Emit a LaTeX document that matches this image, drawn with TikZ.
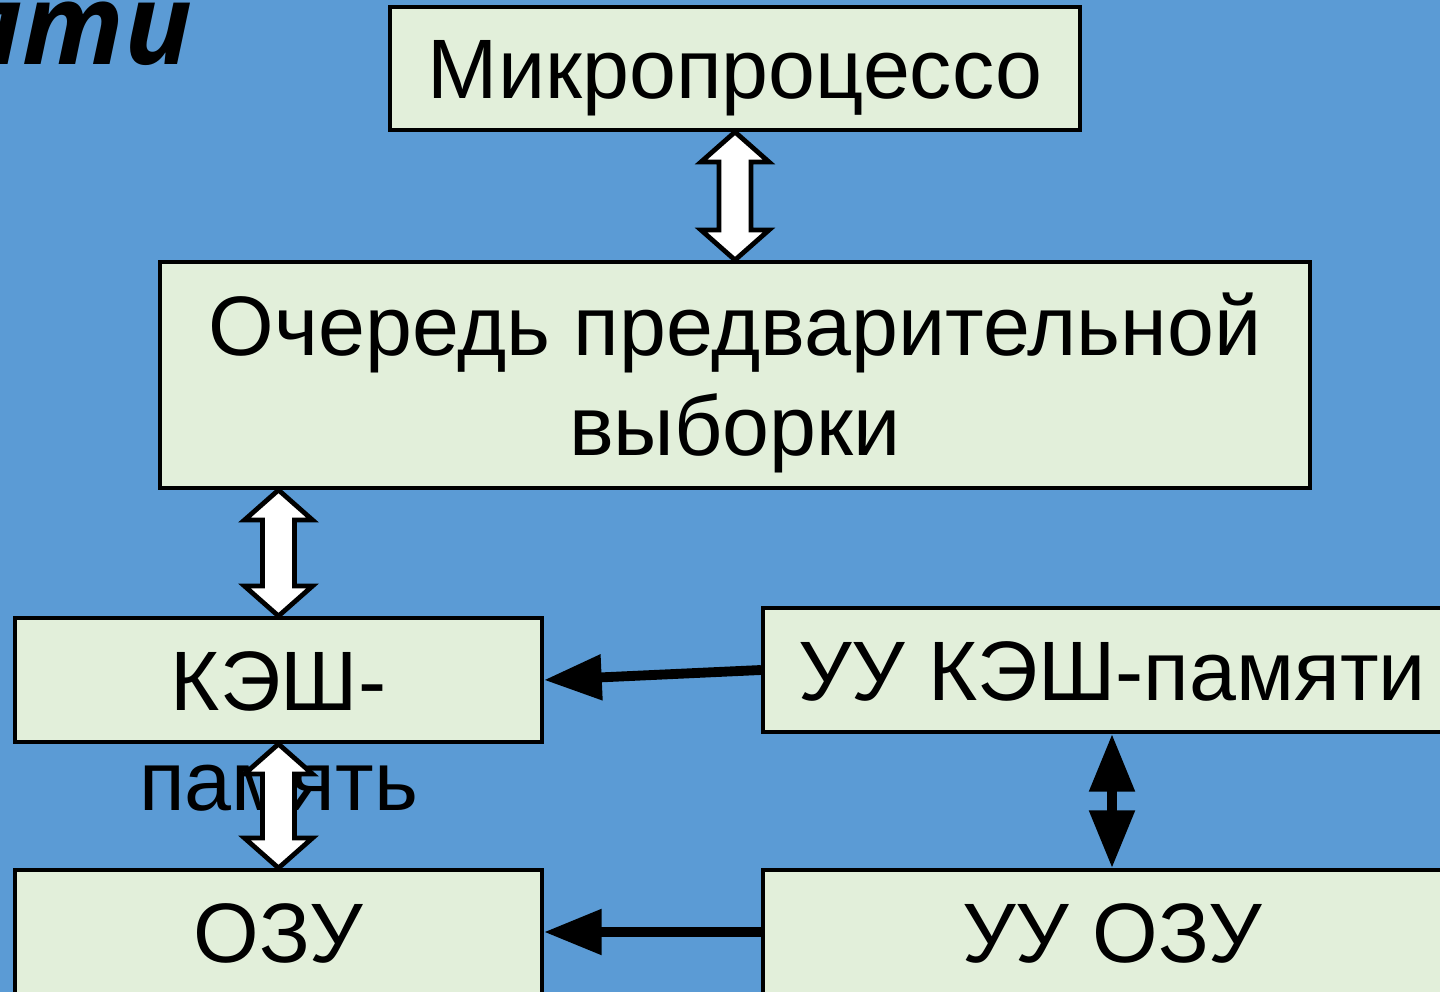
\documentclass[tikz,border=0pt]{standalone}
\usepackage{fontspec}
\setmainfont{Liberation Sans}
\newfontfamily\headfont{Open Sans}
\usetikzlibrary{arrows.meta,calc,positioning}

\definecolor{slideblue}{RGB}{91,155,213}
\definecolor{boxgreen}{RGB}{226,239,218}

% hollow two-headed block arrow from #1 (top) down to #2 (bottom)
\newcommand{\blockarrow}[2]{%
    \draw[block arrow] (#1) -- ++(34,30) -- ++(-18,0) -- ($(#2)+(16,-30)$)
        -- ++(18,0) -- (#2) -- ++(-34,-30) -- ++(18,0) -- ($(#1)+(-16,30)$)
        -- ++(-18,0) -- cycle;}

\begin{document}
\begin{tikzpicture}[x=0.025cm, y=-0.025cm, >={Triangle[length=41pt, width=31pt]}]
    \tikzstyle{big text}=[font=\fontsize{60}{71}\selectfont]
    \tikzstyle{box}=[draw, line width=2.8pt, fill=boxgreen, inner sep=0pt, big text,
        text height=43pt, text depth=0pt, align=center]
    \tikzstyle{block arrow}=[draw, line width=3.4pt, fill=white, line join=miter]
    \tikzstyle{link}=[line width=7pt, ->]

    \useasboundingbox (0,0) rectangle (1440,992);
    \fill[slideblue] (0,0) rectangle (1440,992);

    % Heading running off the top edge
    \node[anchor=base east, inner sep=0pt, font=\headfont\bfseries\itshape\fontsize{80}{90}\selectfont]
        (head) at (193,65) {памяти};

    % Draw the processor side
    \node[box, minimum width=17.25cm, minimum height=3.075cm] (micro) at (735,68.5) {Микропроцессо};
    \node[box, minimum width=28.75cm, minimum height=5.65cm, text height=114pt] (queue) at (735,375)
        {Очередь предварительной\\выборки};

    % Draw the memory column (second half of the cache label hangs out of its box)
    \node[box, minimum width=13.175cm, minimum height=3.1cm,
        label={[big text, inner sep=0pt, anchor=base, label distance=1.65cm]below:память}]
        (cache) at (278.5,680) {КЭШ-};
    \node[box, minimum width=13.175cm, minimum height=3.1cm] (ram) at (278.5,932) {ОЗУ};

    % Draw the controllers
    \node[box, minimum width=17.45cm, minimum height=3.1cm] (cachectl) at (1112,670) {УУ КЭШ-памяти};
    \node[box, minimum width=17.45cm, minimum height=3.1cm] (ramctl) at (1112,932) {УУ ОЗУ};

    % Data paths between the levels
    \blockarrow{micro.south}{queue.north}
    \blockarrow{queue.south -| cache.north}{cache.north}
    \blockarrow{cache.south}{ram.north}

    % Control lines
    \draw[link] (cachectl.west) -- (cache.east);
    \draw[link] (ramctl.west) -- (ram.east);
    \draw[link, <->] (cachectl.south) -- (ramctl.north);
\end{tikzpicture}
\end{document}
